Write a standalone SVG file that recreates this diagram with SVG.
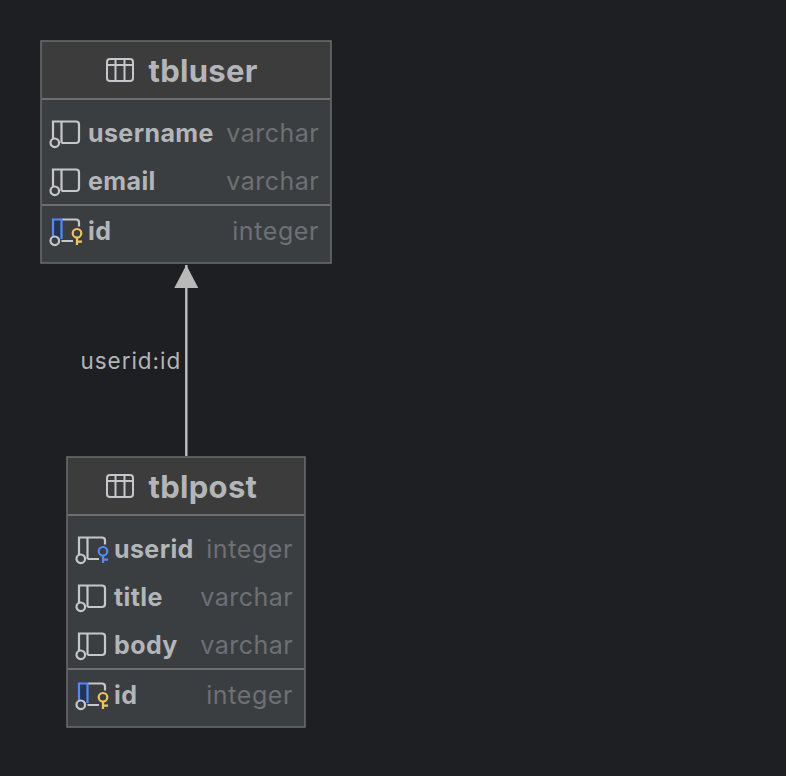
<svg xmlns="http://www.w3.org/2000/svg" width="786" height="776" viewBox="0 0 786 776">
<style>
text{font-family:Inter,"Liberation Sans",sans-serif}
.box{fill:#3b3e41;stroke:#6e6e6e;stroke-width:1.5}
.hd{fill:#3c3c3c}
.sep{stroke:#6e6e6e;stroke-width:2}
.title{font-size:31px;font-weight:700;fill:#b4b5b8;letter-spacing:.3px}
.name{font-size:25px;font-weight:700;fill:#b4b5b8;letter-spacing:.4px}
.type{font-size:25px;fill:#6d7074;text-anchor:end;letter-spacing:.45px}
.int{letter-spacing:.6px}
.ic{fill:none;stroke:#c5c7ca;stroke-width:2.2}
.tic{fill:none;stroke:#c5c7ca;stroke-width:2}
.lbl{font-size:22.5px;fill:#b4b5b8;letter-spacing:.95px}
</style>
<defs>
<g id="tbl"><rect class="tic" x="-13" y="-11" width="26" height="22" rx="3"/><path class="tic" d="M-13-5H13M-4.500-11V11M4.500-11V11"/></g>
<g id="col"><path class="ic" d="M2 19V1.500H25Q28 1.500 28 4.500V20Q28 23 25 23H10.500M10.500 1.500V23"/><circle class="ic" cx="3.800" cy="22.800" r="4.300"/></g>
<g id="pk"><path d="M2 1.500H10.500V21H2Z" fill="#233552"/><path class="ic" d="M11 1.500H25Q28 1.500 28 4.500V8.500M22 23H10.500"/><path d="M2 19V1.500H10.500V21" fill="none" stroke="#548af7" stroke-width="2.200"/><circle class="ic" cx="3.800" cy="22.800" r="4.300"/><circle cx="26" cy="15.300" r="4.300" fill="none" stroke="#f2c55c" stroke-width="2.200"/><path d="M26 19.600V27M26 23.700H31" fill="none" stroke="#f2c55c" stroke-width="2.200"/></g>
<g id="fk"><path class="ic" d="M2 19V1.500H25Q28 1.500 28 4.500V8.500M10.500 1.500V23M10.500 23H22"/><circle class="ic" cx="3.800" cy="22.800" r="4.300"/><circle cx="26" cy="15.300" r="4.300" fill="none" stroke="#548af7" stroke-width="2.200"/><path d="M26 19.600V27M26 23.700H31" fill="none" stroke="#548af7" stroke-width="2.200"/></g>
<marker id="arr" markerUnits="userSpaceOnUse" markerWidth="24" markerHeight="24" refX="23" refY="12" orient="auto"><path d="M0 0L23 12L0 24Z" fill="#b9b9b9"/></marker>
</defs>
<rect width="786" height="776" fill="#1e1f22"/>
<g id="connectors">
<path d="M186.300 456V265" fill="none" stroke="#b9b9b9" stroke-width="2.500" marker-end="url(#arr)"/>
<text class="lbl" x="80.500" y="368.500">userid:id</text>
</g>
<g id="tbluser">
<rect class="box" x="41" y="41" width="290" height="222"/>
<rect class="hd" x="42" y="42" width="288" height="57"/>
<path class="sep" d="M42 99H330M42 205H330"/>
<use href="#tbl" x="120" y="70"/>
<text class="title" x="148.500" y="81.500">tbluser</text>
<use href="#col" x="51" y="120"/><text class="name" x="88" y="142">username</text><text class="type" x="319" y="142">varchar</text>
<use href="#col" x="51" y="168"/><text class="name" x="88" y="190">email</text><text class="type" x="319" y="190">varchar</text>
<use href="#pk" x="51" y="218"/><text class="name" x="88" y="240">id</text><text class="type int" x="319" y="240">integer</text>
</g>
<g id="tblpost">
<rect class="box" x="67" y="457" width="238" height="270"/>
<rect class="hd" x="68" y="458" width="236" height="57"/>
<path class="sep" d="M68 515H304M68 669H304"/>
<use href="#tbl" x="120" y="486"/>
<text class="title" x="148.500" y="497.500">tblpost</text>
<use href="#fk" x="77" y="536"/><text class="name" x="114" y="558">userid</text><text class="type int" x="293" y="558">integer</text>
<use href="#col" x="77" y="584"/><text class="name" x="114" y="606">title</text><text class="type" x="293" y="606">varchar</text>
<use href="#col" x="77" y="632"/><text class="name" x="114" y="654">body</text><text class="type" x="293" y="654">varchar</text>
<use href="#pk" x="77" y="682"/><text class="name" x="114" y="704">id</text><text class="type int" x="293" y="704">integer</text>
</g>
</svg>
